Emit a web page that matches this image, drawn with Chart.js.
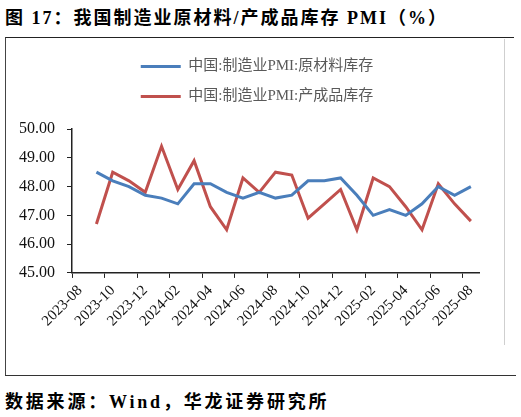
<!DOCTYPE html>
<html lang="zh">
<head>
    <meta charset="UTF-8">
    <title>制造业库存PMI</title>
    <style>
        body { margin: 0; background: #fff; width: 521px; height: 417px; position: relative; overflow: hidden; }
        .title { position: absolute; left: 5px; top: 3px; font: bold 18px "Liberation Serif", "Noto Sans CJK SC", serif; letter-spacing: 2px; color: #000; white-space: nowrap; }
        .frame { position: absolute; left: 5px; top: 37px; width: 508px; height: 338px; border-top: 1.5px solid #222; border-left: 1.5px solid #444; }
        .bottom-line { position: absolute; left: 5px; top: 375px; width: 511px; height: 0; border-top: 1.5px solid #333; }
        .box { position: absolute; left: 6px; top: 39px; width: 498px; height: 306px; border-right: 1px solid #cfcfcf; }
        .source { position: absolute; left: 5px; top: 387px; font: bold 18px "Liberation Serif", "Noto Sans CJK SC", serif; letter-spacing: 2.8px; color: #000; white-space: nowrap; }
    </style>
    <script src="https://cdn.jsdelivr.net/npm/chart.js"></script>
</head>
<body>
    <div class="title">图 17：我国制造业原材料/产成品库存 PMI（%）</div>
    <div class="frame"></div>
    <div class="bottom-line"></div>
    <div class="box"><canvas id="myChart"></canvas></div>
    <div class="source">数据来源：Wind，华龙证券研究所</div>

    <script>
        // months 2023-08 .. 2025-08, first month has no value
        var months = ['2023-08', '2023-09', '2023-10', '2023-11', '2023-12',
            '2024-01', '2024-02', '2024-03', '2024-04', '2024-05', '2024-06',
            '2024-07', '2024-08', '2024-09', '2024-10', '2024-11', '2024-12',
            '2025-01', '2025-02', '2025-03', '2025-04', '2025-05', '2025-06',
            '2025-07', '2025-08'];

        var rawMaterial = [null, 48.5, 48.2, 48.0, 47.7,
            47.6, 47.4, 48.1, 48.1, 47.8, 47.6,
            47.8, 47.6, 47.7, 48.2, 48.2, 48.3,
            47.7, 47.0, 47.2, 47.0, 47.4, 48.0,
            47.7, 48.0];

        var finishedGoods = [null, 46.7, 48.5, 48.2, 47.8,
            49.4, 47.9, 48.9, 47.3, 46.5, 48.3,
            47.8, 48.5, 48.4, 46.9, 47.4, 47.9,
            46.5, 48.3, 48.0, 47.3, 46.5, 48.1,
            47.4, 46.8];

        var yTicks = [45, 46, 47, 48, 49, 50];

        var serif = '"Liberation Serif", "Times New Roman", serif';
        var mixed = '"Liberation Serif", "Noto Sans CJK SC", serif';

        // extra space under the legend, and centre it on the whole box
        var legendGap = {
            id: 'legendGap',
            beforeInit: function(chart) {
                var fit = chart.legend.fit;
                chart.legend.fit = function() {
                    fit.call(this);
                    this.height += 15;
                };
            },
            afterLayout: function(chart) {
                chart.legend.left += 14;
                chart.legend.right += 14;
            }
        };

        var ctx = document.getElementById('myChart');
        new Chart(ctx, {
            type: 'line',
            data: {
                labels: months,
                datasets: [{
                    label: '中国:制造业PMI:原材料库存',
                    data: rawMaterial,
                    borderColor: '#4a7ebb',
                    backgroundColor: '#4a7ebb',
                    borderWidth: 3,
                    pointRadius: 0,
                    tension: 0
                }, {
                    label: '中国:制造业PMI:产成品库存',
                    data: finishedGoods,
                    borderColor: '#c0504d',
                    backgroundColor: '#c0504d',
                    borderWidth: 3,
                    pointRadius: 0,
                    tension: 0
                }]
            },
            plugins: [legendGap],
            options: {
                responsive: true,
                maintainAspectRatio: false,
                animation: false,
                layout: { padding: { left: 1, right: 25, top: 5, bottom: 11 } },
                plugins: {
                    tooltip: { enabled: false },
                    legend: {
                        position: 'top',
                        labels: {
                            boxWidth: 40,
                            boxHeight: 3,
                            padding: 15,
                            color: '#595959',
                            font: { family: mixed, size: 15 },
                            generateLabels: function(chart) {
                                var items = Chart.defaults.plugins.legend.labels.generateLabels(chart);
                                items.forEach(function(it) { it.lineWidth = 0; it.fillStyle = it.strokeStyle; });
                                return items;
                            }
                        }
                    }
                },
                scales: {
                    x: {
                        offset: true,
                        grid: {
                            offset: true,
                            drawOnChartArea: false,
                            tickLength: 5,
                            tickColor: function(c) { return c.index % 2 === 0 ? '#222' : 'rgba(0,0,0,0)'; }
                        },
                        border: { color: '#222', width: 1.5 },
                        ticks: {
                            autoSkip: false,
                            maxRotation: 45,
                            minRotation: 45,
                            padding: 4,
                            color: '#111',
                            font: { family: serif, size: 15 },
                            callback: function(v, i) { return i % 2 === 0 ? months[i] : ''; }
                        }
                    },
                    y: {
                        min: yTicks[0],
                        max: yTicks[yTicks.length - 1],
                        afterBuildTicks: function(axis) {
                            axis.ticks = yTicks.map(function(v) { return { value: v }; });
                        },
                        grid: { drawOnChartArea: false, tickLength: 5, tickColor: '#222' },
                        border: { color: '#222', width: 1.5 },
                        ticks: {
                            padding: 12,
                            color: '#111',
                            font: { family: serif, size: 16 },
                            callback: function(v) { return Number(v).toFixed(2); }
                        }
                    }
                }
            }
        });
    </script>
</body>
</html>
